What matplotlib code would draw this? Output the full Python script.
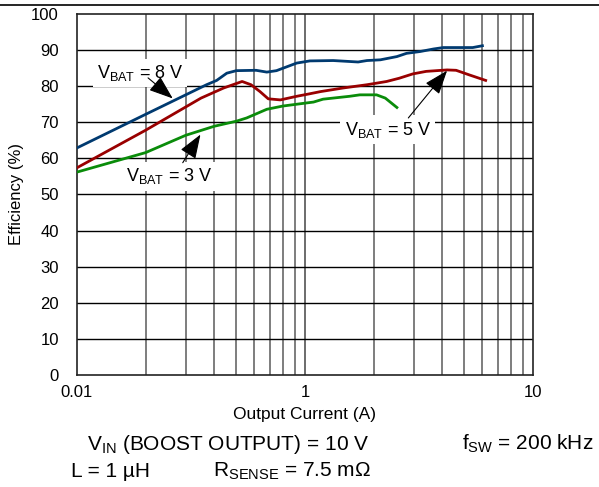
import numpy as np
import matplotlib
matplotlib.use('Agg')
import matplotlib.pyplot as plt
from matplotlib.lines import Line2D

plt.rcParams['font.family'] = ['Liberation Sans', 'DejaVu Sans']
plt.rcParams['mathtext.default'] = 'regular'

# Efficiency vs output current
i_8v = [0.1, 0.2, 0.37, 0.41, 0.454, 0.5, 0.61, 0.68, 0.75, 0.92, 1.05, 1.33, 1.71, 1.87, 2.14, 2.53, 2.79, 3.2, 3.66, 4.04, 5.44, 6.0]
e_8v = [62.9, 72.2, 80.4, 81.6, 83.6, 84.3, 84.4, 83.9, 84.3, 86.4, 87.0, 87.1, 86.7, 87.1, 87.3, 88.2, 89.1, 89.6, 90.3, 90.7, 90.7, 91.2]

i_5v = [0.1, 0.2, 0.35, 0.44, 0.53, 0.58, 0.635, 0.69, 0.78, 0.92, 1.05, 1.17, 1.47, 1.87, 2.28, 2.59, 2.97, 3.4, 4.2, 4.6, 5.27, 6.2]
e_5v = [57.4, 67.8, 76.7, 79.5, 81.3, 80.4, 78.5, 76.5, 76.2, 77.2, 77.9, 78.5, 79.5, 80.4, 81.3, 82.2, 83.4, 84.1, 84.5, 84.4, 83.1, 81.6]

i_3v = [0.1, 0.2, 0.3, 0.4, 0.5, 0.555, 0.68, 0.8, 0.92, 1.0, 1.09, 1.2, 1.57, 1.74, 2.06, 2.25, 2.53]
e_3v = [56.2, 61.6, 66.4, 68.9, 70.3, 71.2, 73.6, 74.5, 75.0, 75.3, 75.6, 76.4, 77.2, 77.6, 77.6, 76.7, 74.1]

x_ticks = [0.1, 1, 10]
x_ticklabels = ['0.01', '1', '10']
y_ticks = list(range(0, 101, 10))

fig = plt.figure(figsize=(5.99, 4.87), dpi=100)
ax = fig.add_axes([0.1285, 0.23, 0.7613, 0.7413])

ax.set_xscale('log')
ax.set_xlim(0.1, 10)
ax.set_ylim(0, 100)

# grid: gray verticals, black horizontals
minor = [m * d for d in (0.1, 1) for m in range(2, 10)]
for xv in minor:
    ax.axvline(xv, color='#5a5a5a', lw=1.1, zorder=1)
ax.axvline(1, color='#444444', lw=1.1, zorder=1)
for yv in y_ticks[1:-1]:
    ax.axhline(yv, color='black', lw=1.0, zorder=1)

ax.plot(i_8v, e_8v, color='#003a70', lw=2.0, zorder=3)
ax.plot(i_5v, e_5v, color='#990000', lw=2.0, zorder=3)
ax.plot(i_3v, e_3v, color='#0a8c0a', lw=2.0, zorder=3)

ax.set_xticks(x_ticks)
ax.set_xticklabels(x_ticklabels)
ax.xaxis.set_minor_locator(matplotlib.ticker.NullLocator())
ax.set_yticks(y_ticks)
ax.tick_params(length=0, labelsize=12)
ax.tick_params(axis='y', pad=13)
ax.tick_params(axis='x', pad=7)
for s in ax.spines.values():
    s.set_color('#222222')
    s.set_linewidth(1.2)

ax.set_xlabel('Output Current (A)', fontsize=12.5, labelpad=5)
ax.set_ylabel('Efficiency (%)', fontsize=12, labelpad=5)

arrow = dict(arrowstyle='-|>,head_length=1.5,head_width=0.55', color='black',
             lw=0.8, shrinkA=0, shrinkB=0, mutation_scale=10)
box = dict(facecolor='white', edgecolor='none', pad=3)

# label texts
ax.text(0.189, 82.3, '$V_{BAT}$ = 8 V', fontsize=13, ha='center', va='baseline', bbox=box, zorder=4)
ax.text(0.254, 53.6, '$V_{BAT}$ = 3 V', fontsize=13, ha='center', va='baseline', bbox=box, zorder=4)
ax.text(2.31, 66.6, '$V_{BAT}$ = 5 V', fontsize=13, ha='center', va='baseline', bbox=box, zorder=4)
# arrows
ax.annotate('', xy=(0.263, 76.6), xytext=(0.205, 82.3), arrowprops=arrow, zorder=5)
ax.annotate('', xy=(0.348, 66.6), xytext=(0.291, 58.8), arrowprops=arrow, zorder=5)
ax.annotate('', xy=(4.2, 84.3), xytext=(2.84, 71.2), arrowprops=arrow, zorder=5)

fig.add_artist(Line2D([0, 1], [1 - 4.5 / 487, 1 - 4.5 / 487], color='black', lw=1.2))

fig.text(87 / 599, 1 - 450 / 487, '$V_{IN}$ (BOOST OUTPUT) = 10 V', fontsize=15, va='baseline')
fig.text(462 / 599, 1 - 450 / 487, '$f_{SW}$ = 200 kHz', fontsize=15, va='baseline')
fig.text(71 / 599, 1 - 477 / 487, 'L = 1 µH', fontsize=15, va='baseline')
fig.text(213 / 599, 1 - 477 / 487, '$R_{SENSE}$ = 7.5 mΩ', fontsize=15, va='baseline')

fig.savefig('out.png', dpi=100)
